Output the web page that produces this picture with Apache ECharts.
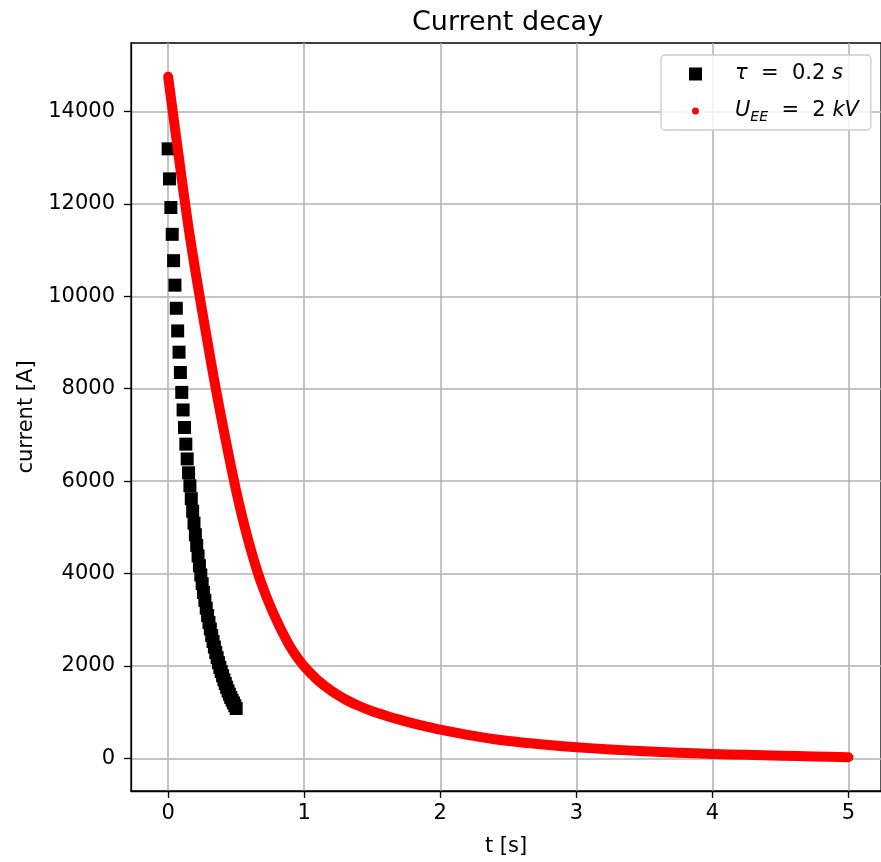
<!DOCTYPE html>
<html>
<head>
<meta charset="utf-8">
<script src="https://cdn.jsdelivr.net/npm/echarts@6/dist/echarts.min.js"></script>
<style>
  html, body { margin: 0; padding: 0; background: #fff; }
  #chart { width: 881px; height: 862px; }
</style>
</head>
<body>
<div id="chart"></div>
<script>
// tau = 0.2 s, black squares
const tauT = [0, 0.01, 0.02, 0.03, 0.04, 0.05, 0.06, 0.07, 0.08, 0.09,
  0.10, 0.11, 0.12, 0.13, 0.14, 0.15, 0.16, 0.17, 0.18, 0.19,
  0.20, 0.21, 0.22, 0.23, 0.24, 0.25, 0.26, 0.27, 0.28, 0.29,
  0.30, 0.31, 0.32, 0.33, 0.34, 0.35, 0.36, 0.37, 0.38, 0.39,
  0.40, 0.41, 0.42, 0.43, 0.44, 0.45, 0.46, 0.47, 0.48, 0.49, 0.50];
const tauCurrent = [13190, 12540, 11920, 11340, 10770, 10240, 9740, 9250, 8790, 8350,
  7920, 7540, 7160, 6800, 6480, 6180, 5900, 5620, 5350, 5090,
  4840, 4610, 4380, 4170, 3970, 3780, 3590, 3420, 3250, 3090,
  2940, 2800, 2660, 2530, 2410, 2290, 2180, 2070, 1970, 1880,
  1790, 1700, 1620, 1540, 1460, 1390, 1320, 1260, 1200, 1140, 1080];

// U_EE = 2 kV, red dots (dense, drawn as a thick line)
const ueeT = [0, 0.05, 0.1, 0.15, 0.2, 0.25, 0.3, 0.35, 0.4, 0.45,
  0.5, 0.55, 0.6, 0.65, 0.7, 0.75, 0.8, 0.85, 0.9, 0.95, 1.0,
  1.1, 1.2, 1.3, 1.4, 1.5, 1.6, 1.7, 1.8, 1.9, 2.0,
  2.2, 2.4, 2.6, 2.8, 3.0, 3.25, 3.5, 3.75, 4.0, 4.25, 4.5, 4.75, 5.0];
const ueeCurrent = [14750, 13640, 12540, 11480, 10550, 9680, 8830, 8000, 7230, 6490,
  5790, 5160, 4600, 4100, 3670, 3300, 2970, 2670, 2400, 2180, 1990,
  1690, 1460, 1280, 1140, 1020, 925, 840, 760, 690, 622,
  510, 415, 345, 290, 242, 195, 155, 125, 97, 78, 60, 42, 26];

const xTicks = [0, 1, 2, 3, 4, 5];
const yTicks = [0, 2000, 4000, 6000, 8000, 10000, 12000, 14000];

const FONT = "DejaVu Sans";
const chart = echarts.init(document.getElementById("chart"));

const axisCommon = {
  type: "value",
  nameLocation: "middle",
  nameTextStyle: { fontFamily: FONT, fontSize: 21, color: "#000" },
  axisLine: { show: true, onZero: false, lineStyle: { color: "#000", width: 1.3 } },
  splitLine: { show: true, lineStyle: { color: "#b0b0b0", width: 1.5 } },
};
const tickStyle = { show: true, inside: false, length: 7, lineStyle: { color: "#000", width: 1.3 } };

chart.setOption({
  animation: false,
  title: {
    text: "Current decay",
    left: 407,
    top: 4,
    textStyle: { fontFamily: FONT, fontSize: 27, fontWeight: "normal", color: "#000" },
  },
  grid: {
    left: 131, right: -3, top: 43, bottom: 70,
    show: true, borderColor: "#000", borderWidth: 1.3,
  },
  legend: {
    orient: "vertical",
    left: 661,
    top: 55,
    padding: [6, 12, 6, 25],
    itemWidth: 13,
    itemHeight: 13,
    itemGap: 11,
    backgroundColor: "rgba(255,255,255,0.8)",
    borderColor: "#cccccc",
    borderWidth: 1.3,
    borderRadius: 4,
    data: [
      { name: "tau", icon: "rect", itemStyle: { color: "#000", opacity: 1 } },
      { name: "uee", icon: "circle", itemStyle: { color: "#ff0000", borderColor: "#fff", borderWidth: 6 } },
    ],
    formatter: (name) => name === "tau"
      ? "{g|}{i|τ}{r|  =  0.2 }{i|s}"
      : "{g|}{i|U}{sub|EE}{r|  =  2 }{i|kV}",
    textStyle: {
      fontFamily: FONT, fontSize: 21, color: "#000", lineHeight: 26,
      rich: {
        g: { width: 28 },
        i: { fontFamily: FONT, fontSize: 21, fontStyle: "italic", lineHeight: 26 },
        r: { fontFamily: FONT, fontSize: 21, lineHeight: 26 },
        sub: { fontFamily: FONT, fontSize: 14, fontStyle: "italic", lineHeight: 14, verticalAlign: "bottom" },
      },
    },
  },
  xAxis: Object.assign({}, axisCommon, {
    min: -0.273,
    max: 5.239,
    name: "t [s]",
    nameGap: 45,
    axisTick: Object.assign({}, tickStyle, { customValues: xTicks }),
    axisLabel: { customValues: xTicks, margin: 12, fontFamily: FONT, fontSize: 21, color: "#000" },
  }),
  yAxis: Object.assign({}, axisCommon, {
    min: -705,
    max: 15480,
    name: "current [A]",
    nameGap: 91,
    axisTick: Object.assign({}, tickStyle, { customValues: yTicks }),
    axisLabel: {
      customValues: yTicks, margin: 16, fontFamily: FONT, fontSize: 21, color: "#000",
      formatter: (v) => String(v),
    },
  }),
  series: [
    {
      name: "tau",
      type: "scatter",
      symbol: "rect",
      symbolSize: 13,
      itemStyle: { color: "#000", opacity: 1 },
      data: tauT.map((t, i) => [t, tauCurrent[i]]),
    },
    {
      name: "uee",
      type: "line",
      showSymbol: false,
      smooth: 0.3,
      itemStyle: { color: "#ff0000" },
      lineStyle: { color: "#ff0000", width: 10, cap: "round", join: "round" },
      data: ueeT.map((t, i) => [t, ueeCurrent[i]]),
    },
  ],
});
</script>
</body>
</html>
